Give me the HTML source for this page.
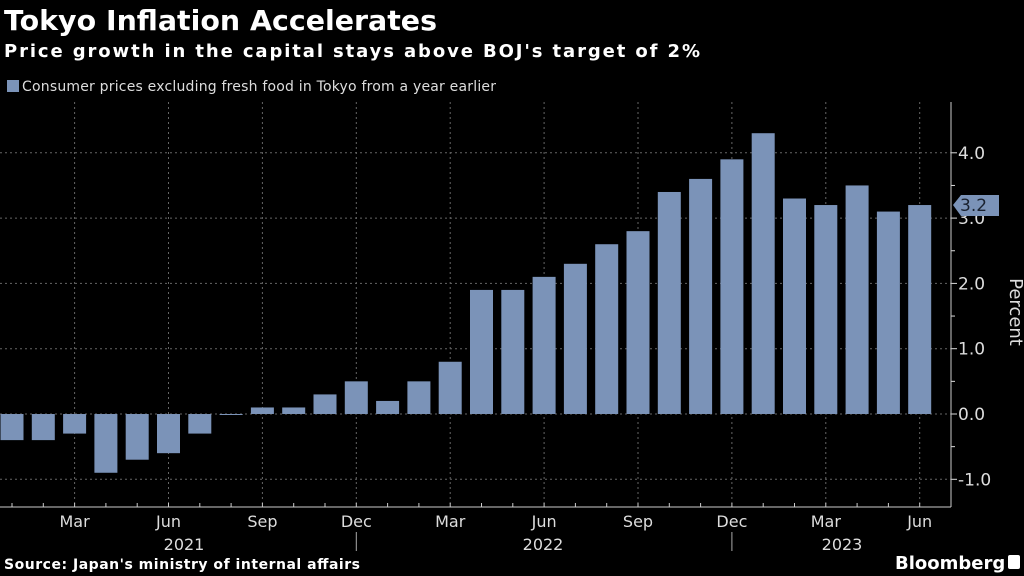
<!DOCTYPE html>
<html><head><meta charset="utf-8"><style>
body{margin:0;background:#000;width:1024px;height:576px;overflow:hidden;font-family:"Liberation Sans","DejaVu Sans",sans-serif}
svg{display:block}
</style></head><body>
<svg width="1024" height="576" xmlns="http://www.w3.org/2000/svg" id="chart">
<text x="4" y="30" fill="#fff" font-family="DejaVu Sans, sans-serif" font-weight="bold" font-size="28" textLength="433" lengthAdjust="spacingAndGlyphs">Tokyo Inflation Accelerates</text>
<text x="4" y="57" fill="#fff" font-family="DejaVu Sans, sans-serif" font-weight="bold" font-size="18" textLength="696" lengthAdjust="spacing">Price growth in the capital stays above BOJ's target of 2%</text>
<rect x="7" y="80" width="12" height="12" fill="#7b93b8"/>
<text x="22" y="91" fill="#ddd" font-family="DejaVu Sans, sans-serif" font-size="14" textLength="474" lengthAdjust="spacing">Consumer prices excluding fresh food in Tokyo from a year earlier</text>
<g id="grid"></g><g id="bars"></g><g id="axes"></g>
<text x="1017" y="305" fill="#ddd" font-family="DejaVu Sans, sans-serif" font-size="18" transform="rotate(90 1010 305)" text-anchor="middle">Percent</text>
<text x="4" y="569" fill="#fff" font-family="DejaVu Sans, sans-serif" font-weight="bold" font-size="14" textLength="356" lengthAdjust="spacing">Source: Japan's ministry of internal affairs</text>
<text x="895" y="569" fill="#fff" font-family="DejaVu Sans, sans-serif" font-weight="bold" font-size="18">Bloomberg</text>
<rect x="1008" y="555" width="12" height="14" rx="2" fill="#fff"/>
</svg>
<script>
const months=["Jan","Feb","Mar","Apr","May","Jun","Jul","Aug","Sep","Oct","Nov","Dec","Jan","Feb","Mar","Apr","May","Jun","Jul","Aug","Sep","Oct","Nov","Dec","Jan","Feb","Mar","Apr","May","Jun"];
const values=[-0.4,-0.4,-0.3,-0.9,-0.7,-0.6,-0.3,0.0,0.1,0.1,0.3,0.5,0.2,0.5,0.8,1.9,1.9,2.1,2.3,2.6,2.8,3.4,3.6,3.9,4.3,3.3,3.2,3.5,3.1,3.2];
const yTicks=[-1,0,1,2,3,4];
const years=["2021","2022","2023"];
const NS="http://www.w3.org/2000/svg";
const x0=12,step=31.3,zeroY=414,unit=65.3,axisX=951,bottomY=507,topY=102;
const X=i=>x0+step*i, Y=v=>zeroY-v*unit;
function mk(t,a,p){const e=document.createElementNS(NS,t);for(const k in a)e.setAttribute(k,a[k]);document.getElementById(p).appendChild(e);return e;}
yTicks.forEach(v=>{
 const g=mk("line",{x1:0,x2:axisX,y1:Y(v),y2:Y(v),stroke:"#666","stroke-dasharray":"2,3","stroke-width":1},"grid");
 
 
 const t=mk("line",{x1:axisX,x2:axisX+6,y1:Y(v),y2:Y(v),stroke:"#ddd"},"axes");
 
 
 const l=mk("text",{x:axisX+7,y:Y(v)+6,fill:"#ddd","font-size":"17","font-family":"DejaVu Sans, sans-serif"},"axes");
 l.textContent=(v<0?"-":"")+Math.abs(v).toFixed(1);
 
 
});
[-0.5,0.5,1.5,2.5,3.5].forEach(v=>{const t=mk("line",{x1:axisX,x2:axisX+4,y1:Y(v),y2:Y(v),stroke:"#ddd"},"axes");});
months.forEach((m,i)=>{
 const x=X(i);
 const tk=mk("line",{x1:x,x2:x,y1:bottomY,y2:bottomY-4,stroke:"#ccc"},"axes");
 
 
 if(i%3==2){
  const g=mk("line",{x1:x,x2:x,y1:topY,y2:bottomY,stroke:"#666","stroke-dasharray":"2,3"},"grid");
  
  
  const l=mk("text",{x:x,y:527,fill:"#ddd","font-size":"16","text-anchor":"middle","font-family":"DejaVu Sans, sans-serif"},"axes");
  l.textContent=m;
  
  
 }
 if(i%12==11){
  const d=mk("line",{x1:x,x2:x,y1:532,y2:551,stroke:"#aaa"},"axes");
  
  
 }
 const v=values[i];
 const b=mk("rect",{x:x-11.5,width:23,y:Math.min(Y(v),zeroY),height:Math.max(Math.abs(v)*unit,v===0?1:0),fill:"#7b93b8"},"bars");
 
 
});
const yc=[184,543,842];
years.forEach((y,k)=>{const t=mk("text",{x:yc[k],y:550,fill:"#ddd","font-size":"16","text-anchor":"middle","font-family":"DejaVu Sans, sans-serif"},"axes");t.textContent=y;});
const ax=mk("line",{x1:0,x2:axisX,y1:bottomY,y2:bottomY,stroke:"#ccc"},"axes");


const ay=mk("line",{x1:axisX,x2:axisX,y1:topY,y2:bottomY,stroke:"#ccc"},"axes");


const last=values[values.length-1],ly=Y(last);
const tag=mk("path",{d:`M${axisX+2} ${ly} L${axisX+10} ${ly-10} L${axisX+48} ${ly-10} L${axisX+48} ${ly+11} L${axisX+10} ${ly+11} Z`,fill:"#7b93b8"},"axes");


const tt=mk("text",{x:axisX+9,y:ly+6,fill:"#1a2230","font-size":"17","font-family":"DejaVu Sans, sans-serif"},"axes");
tt.textContent=last.toFixed(1);


</script>
</body></html>
